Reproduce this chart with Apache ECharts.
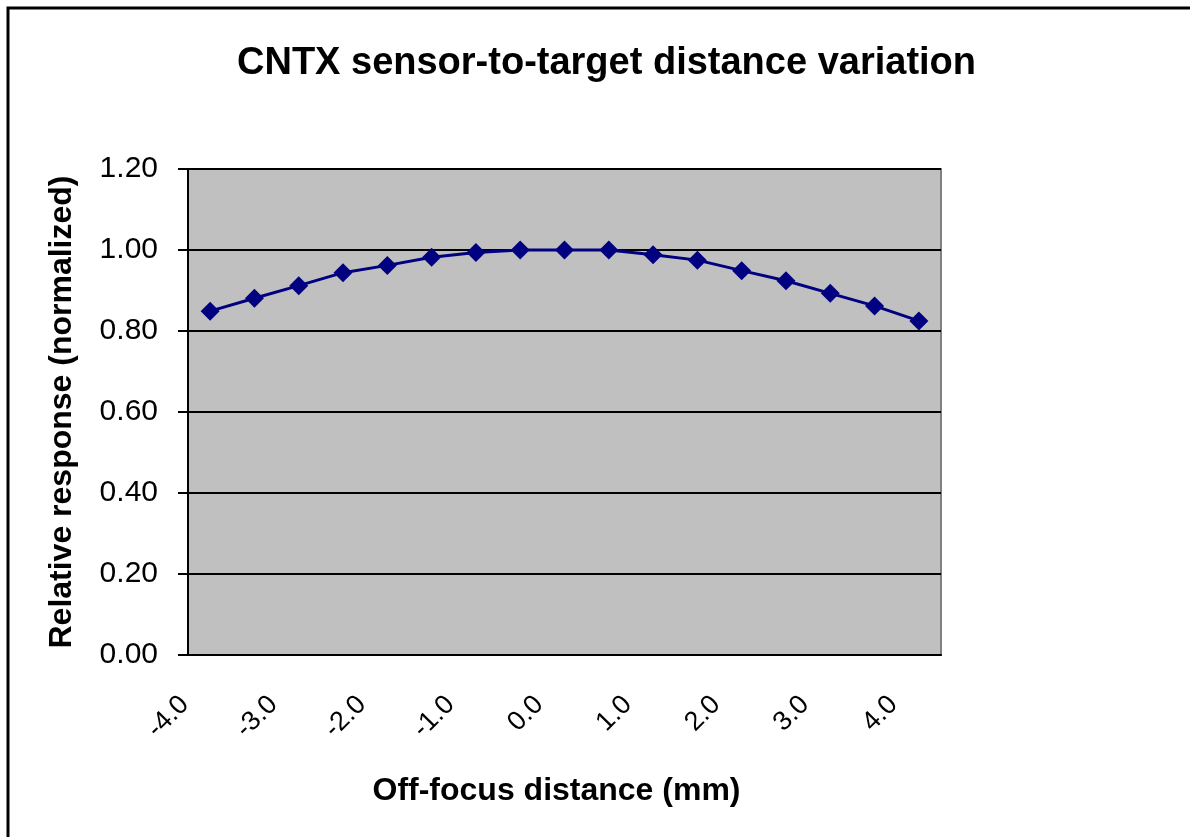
<!DOCTYPE html>
<html>
<head>
<meta charset="utf-8">
<script src="https://cdn.jsdelivr.net/npm/echarts@6/dist/echarts.min.js"></script>
<style>
  html, body { margin: 0; padding: 0; background: #fff; }
  #chart { width: 1190px; height: 837px; }
</style>
</head>
<body>
<div id="chart"></div>
<script>
const distances = ['-4.0', '-3.5', '-3.0', '-2.5', '-2.0', '-1.5', '-1.0', '-0.5', '0.0',
  '0.5', '1.0', '1.5', '2.0', '2.5', '3.0', '3.5', '4.0'];
const response = [0.849, 0.881, 0.912, 0.944, 0.962, 0.982, 0.994, 1.0, 1.0,
  1.0, 0.988, 0.975, 0.949, 0.924, 0.893, 0.862, 0.825];
const yTicks = { min: 0, max: 1.2, step: 0.2 };

const chart = echarts.init(document.getElementById('chart'), null, { renderer: 'canvas' });
const font = 'Arial, "Liberation Sans", sans-serif';

let option = {
  backgroundColor: '#fff',
  animation: false,
  title: {
    text: 'CNTX sensor-to-target distance variation',
    left: 232,
    top: 40,
    textStyle: { fontFamily: font, fontSize: 38, fontWeight: 'bold', color: '#000' }
  },
  graphic: [{
    type: 'rect',
    shape: { x: 8, y: 8, width: 1220, height: 870 },
    style: { fill: 'none', stroke: '#000', lineWidth: 3 },
    silent: true
  }],
  grid: {
    left: 188,
    right: 249,
    top: 169,
    bottom: 182,
    show: true,
    backgroundColor: '#c0c0c0',
    borderColor: '#808080',
    borderWidth: 2
  },
  xAxis: {
    type: 'category',
    data: distances,
    boundaryGap: true,
    name: 'Off-focus distance (mm)',
    nameLocation: 'middle',
    nameGap: 120,
    nameTextStyle: { fontFamily: font, fontSize: 32, fontWeight: 'bold', color: '#000', padding: [0, 16, 0, 0] },
    axisLine: { lineStyle: { color: '#000', width: 2 } },
    axisTick: { interval: 0, length: 10, alignWithLabel: false, lineStyle: { color: '#000', width: 2 } },
    axisLabel: {
      interval: 1,
      rotate: 45,
      margin: 20,
      padding: [0, 36, 0, 0],
      fontFamily: font,
      fontSize: 27,
      color: '#000'
    },
    splitLine: { show: false }
  },
  yAxis: {
    type: 'value',
    min: yTicks.min,
    max: yTicks.max,
    interval: yTicks.step,
    name: 'Relative response (normalized)',
    nameLocation: 'middle',
    nameGap: 110,
    nameRotate: 90,
    nameTextStyle: { fontFamily: font, fontSize: 32, fontWeight: 'bold', color: '#000' },
    axisLine: { show: true, lineStyle: { color: '#000', width: 2 } },
    axisTick: { show: true, length: 10, lineStyle: { color: '#000', width: 2 } },
    axisLabel: {
      margin: 30,
      fontFamily: font,
      fontSize: 30,
      color: '#000',
      formatter: v => v.toFixed(2)
    },
    splitLine: { lineStyle: { color: '#000', width: 2 } }
  },
  series: [{
    type: 'line',
    data: response,
    symbol: 'diamond',
    symbolSize: 19,
    lineStyle: { color: '#000080', width: 3 },
    itemStyle: { color: '#000080' }
  }]
};
chart.setOption(option);
</script>
</body>
</html>
